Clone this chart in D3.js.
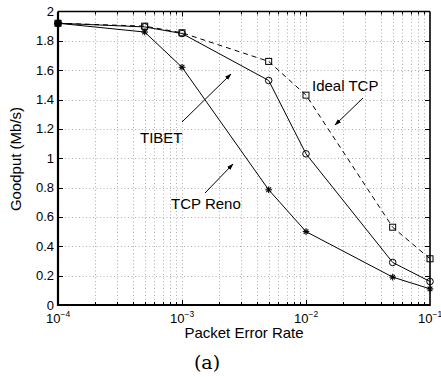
<!DOCTYPE html>
<html>
<head>
<meta charset="utf-8">
<script src="https://cdn.jsdelivr.net/npm/d3@7"></script>
<style>
  html, body { margin: 0; padding: 0; background: #fff; }
  svg text { font-family: "Liberation Sans", Arial, sans-serif; fill: #000; }
</style>
</head>
<body>
<svg id="chart" width="441" height="377"></svg>
<script>
// Packet error rates sampled in the experiment
const errorRates = [1e-4, 5e-4, 1e-3, 5e-3, 1e-2, 5e-2, 1e-1];

// Goodput (Mb/s) per protocol
const idealTcp = [1.92, 1.90, 1.855, 1.66, 1.43, 0.53, 0.315];
const tibet    = [1.92, 1.895, 1.85, 1.53, 1.03, 0.29, 0.16];
const tcpReno  = [1.92, 1.86, 1.62, 0.785, 0.50, 0.19, 0.11];

const yTicks = [0, 0.2, 0.4, 0.6, 0.8, 1, 1.2, 1.4, 1.6, 1.8, 2];
const yTickLabels = ["0", "0.2", "0.4", "0.6", "0.8", "1", "1.2", "1.4", "1.6", "1.8", "2"];
const xTicks = [1e-4, 1e-3, 1e-2, 1e-1];
const xTickExponents = ["\u22124", "\u22123", "\u22122", "\u22121"];

const svg = d3.select("#chart");
const margin = { left: 58, right: 11, top: 11.5, bottom: 72 };
const W = 441, H = 377;
const x = d3.scaleLog().domain([1e-4, 1e-1]).range([margin.left, W - margin.right]);
const y = d3.scaleLinear().domain([0, 2]).range([H - margin.bottom, margin.top]);
const x0 = x.range()[0], x1 = x.range()[1], y0 = y.range()[0], y1 = y.range()[1];

// Minor log ticks for the grid
const minorTicks = [];
for (let e = -4; e < -1; e++) for (let m = 1; m <= 9; m++) minorTicks.push(m * Math.pow(10, e));
minorTicks.push(1e-1);

const grid = svg.append("g").attr("stroke", "#9a9a9a").attr("stroke-width", 0.8)
  .attr("stroke-dasharray", "1,2.5");
grid.selectAll("line.v").data(minorTicks.filter(d => d > 1e-4 && d < 1e-1)).join("line")
  .attr("x1", d => Math.round(x(d)) + 0.5).attr("x2", d => Math.round(x(d)) + 0.5)
  .attr("y1", y1).attr("y2", y0);
grid.selectAll("line.h").data(yTicks.filter(d => d > 0 && d < 2)).join("line")
  .attr("x1", x0).attr("x2", x1)
  .attr("y1", d => Math.round(y(d)) + 0.5).attr("y2", d => Math.round(y(d)) + 0.5);

// Inward tick marks on all four sides
const ticks = svg.append("g").attr("stroke", "#000").attr("stroke-width", 1);
minorTicks.filter(d => d > 1e-4 && d < 1e-1).forEach(d => {
  const major = xTicks.includes(d);
  const len = major ? 5 : 3;
  const px = Math.round(x(d)) + 0.5;
  ticks.append("line").attr("x1", px).attr("x2", px).attr("y1", y0).attr("y2", y0 - len);
  ticks.append("line").attr("x1", px).attr("x2", px).attr("y1", y1).attr("y2", y1 + len);
});
yTicks.filter(d => d > 0 && d < 2).forEach(d => {
  const py = Math.round(y(d)) + 0.5;
  ticks.append("line").attr("x1", x0).attr("x2", x0 + 5).attr("y1", py).attr("y2", py);
  ticks.append("line").attr("x1", x1).attr("x2", x1 - 5).attr("y1", py).attr("y2", py);
});

// Series lines
const line = d3.line().x((d, i) => x(errorRates[i])).y(d => y(d));
svg.append("path").datum(idealTcp).attr("d", line).attr("fill", "none")
  .attr("stroke", "#000").attr("stroke-width", 1).attr("stroke-dasharray", "5,4");
svg.append("path").datum(tibet).attr("d", line).attr("fill", "none")
  .attr("stroke", "#000").attr("stroke-width", 1);
svg.append("path").datum(tcpReno).attr("d", line).attr("fill", "none")
  .attr("stroke", "#000").attr("stroke-width", 1);

// Markers: squares (Ideal TCP), circles (TIBET), stars (TCP Reno)
svg.append("g").selectAll("rect").data(idealTcp).join("rect")
  .attr("x", (d, i) => x(errorRates[i]) - 3).attr("y", d => y(d) - 3)
  .attr("width", 6).attr("height", 6).attr("fill", "none").attr("stroke", "#000").attr("stroke-width", 1);
svg.append("g").selectAll("circle").data(tibet).join("circle")
  .attr("cx", (d, i) => x(errorRates[i])).attr("cy", d => y(d)).attr("r", 3.3)
  .attr("fill", "none").attr("stroke", "#000").attr("stroke-width", 1);
const star = svg.append("g").attr("stroke", "#000").attr("stroke-width", 1.1);
tcpReno.forEach((d, i) => {
  const cx = x(errorRates[i]), cy = y(d), r = 3.3;
  [0, 45, 90, 135].forEach(a => {
    const rad = a * Math.PI / 180;
    star.append("line").attr("x1", cx - r * Math.cos(rad)).attr("y1", cy - r * Math.sin(rad))
      .attr("x2", cx + r * Math.cos(rad)).attr("y2", cy + r * Math.sin(rad));
  });
});
// Shared start point
svg.append("circle").attr("cx", x(errorRates[0])).attr("cy", y(tibet[0])).attr("r", 3.6).attr("fill", "#000");

// Axes box
svg.append("line").attr("x1", x0).attr("x2", x1).attr("y1", y0).attr("y2", y0).attr("stroke", "#000").attr("stroke-width", 2.2);
svg.append("line").attr("x1", x0).attr("x2", x0).attr("y1", y0 + 1).attr("y2", y1).attr("stroke", "#000").attr("stroke-width", 2.2);
svg.append("line").attr("x1", x0).attr("x2", x1).attr("y1", y1).attr("y2", y1).attr("stroke", "#000").attr("stroke-width", 1.4);
svg.append("line").attr("x1", x1).attr("x2", x1).attr("y1", y1).attr("y2", y0 + 1).attr("stroke", "#000").attr("stroke-width", 1.6);

// Y tick labels
svg.append("g").selectAll("text").data(yTicks).join("text")
  .attr("x", x0 - 4).attr("y", d => y(d) + 4.5).attr("text-anchor", "end")
  .attr("font-size", 13).text((d, i) => yTickLabels[i]);

// X tick labels with superscript exponents
const xl = svg.append("g");
xTicks.forEach((d, i) => {
  const t = xl.append("text").attr("x", x(d) - 12).attr("y", y0 + 18).attr("text-anchor", "start")
    .attr("font-size", 13);
  t.append("tspan").text("10");
  t.append("tspan").attr("dy", -6).attr("font-size", 8.5).text(xTickExponents[i]);
});

// Axis titles
svg.append("text").attr("x", 244).attr("y", 338).attr("text-anchor", "middle")
  .attr("font-size", 15).text("Packet Error Rate");
svg.append("text").attr("transform", "translate(21,159) rotate(-90)").attr("text-anchor", "middle")
  .attr("font-size", 15).text("Goodput (Mb/s)");
svg.append("text").attr("x", 207).attr("y", 369).attr("text-anchor", "middle")
  .style("font-family", "'DejaVu Serif', 'Liberation Serif', serif").attr("font-size", 19).text("(a)");

// Annotations with arrows
const defs = svg.append("defs");
defs.append("marker").attr("id", "arrow").attr("viewBox", "0 0 10 10").attr("refX", 9).attr("refY", 5)
  .attr("markerWidth", 7).attr("markerHeight", 7).attr("orient", "auto")
  .append("path").attr("d", "M0,1.8 L10,5 L0,8.2 Z").attr("fill", "#000");

const notes = [
  { text: "TIBET", tx: 140, ty: 143, from: [182, 122], to: [231, 74] },
  { text: "TCP Reno", tx: 171, ty: 209, from: [205, 193], to: [233, 164] },
  { text: "Ideal TCP", tx: 312, ty: 91, from: [363, 98], to: [335, 125] }
];
notes.forEach(n => {
  svg.append("line").attr("x1", n.from[0]).attr("y1", n.from[1]).attr("x2", n.to[0]).attr("y2", n.to[1])
    .attr("stroke", "#000").attr("stroke-width", 1).attr("marker-end", "url(#arrow)");
  svg.append("text").attr("x", n.tx).attr("y", n.ty).attr("font-size", 15).text(n.text);
});
</script>
</body>
</html>
